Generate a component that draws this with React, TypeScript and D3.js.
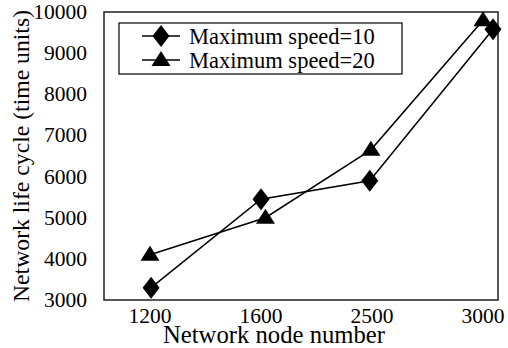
import React from "react";
import * as d3 from "d3";

const categories = ["1200", "1600", "2500", "3000"];
const yTicks = [3000, 4000, 5000, 6000, 7000, 8000, 9000, 10000];
const seriesNames = ["Maximum speed=10", "Maximum speed=20"];
// x position of each point, in category units
const speed10X = [0.01, 1.0, 1.98, 3.09];
const speed10Y = [3300, 5450, 5900, 9580];
const speed20X = [0, 1.04, 1.99, 3.0];
const speed20Y = [4100, 5000, 6650, 9800];

const W = 508;
const H = 348;
const FONT = "Liberation Serif";

function Diamond({ x, y }: { x: number; y: number }) {
  const w = 8.5, h = 11;
  return <path d={`M${x},${y - h}L${x + w},${y}L${x},${y + h}L${x - w},${y}Z`} fill="#000" />;
}
function Triangle({ x, y }: { x: number; y: number }) {
  const w = 9.5, h = 15;
  return <path d={`M${x},${y - h * 0.6}L${x + w},${y + h * 0.4}L${x - w},${y + h * 0.4}Z`} fill="#000" />;
}

export default function App() {
  const left = 104, right = 498, top = 12, bottom = 300;
  const x = d3.scaleLinear().domain([0, 3]).range([150, 483]);
  const y = d3.scaleLinear().domain([3000, 10000]).range([bottom, top]);
  const line = d3.line<[number, number]>().x((d) => x(d[0])).y((d) => y(d[1]));
  const s1 = speed10X.map((v, i) => [v, speed10Y[i]] as [number, number]);
  const s2 = speed20X.map((v, i) => [v, speed20Y[i]] as [number, number]);
  const txt = { fontFamily: FONT } as React.CSSProperties;

  return (
    <svg width={W} height={H} style={{ position: "absolute", left: 0, top: 0, background: "#fff" }}>
      <rect x={0} y={0} width={W} height={H} fill="#fff" />
      <rect x={left} y={top} width={right - left} height={bottom - top} fill="none" stroke="#222" strokeWidth={1.5} />
      {yTicks.map((t) => (
        <text key={t} x={87} y={y(t) + 7} textAnchor="end" style={txt} fontSize={21.5}>
          {t}
        </text>
      ))}
      {categories.map((c, i) => (
        <text key={c} x={x(i)} y={323} textAnchor="middle" style={txt} fontSize={21.5}>
          {c}
        </text>
      ))}
      <text x={274} y={343} textAnchor="middle" style={txt} fontSize={24.7}>
        Network node number
      </text>
      <text transform={`translate(29,156) rotate(-90)`} textAnchor="middle" style={txt} fontSize={23.7}>
        Network life cycle (time units)
      </text>
      <path d={line(s1) || ""} fill="none" stroke="#000" strokeWidth={1.5} />
      <path d={line(s2) || ""} fill="none" stroke="#000" strokeWidth={1.5} />
      {s1.map((d, i) => (
        <Diamond key={"d" + i} x={x(d[0])} y={y(d[1])} />
      ))}
      {s2.map((d, i) => (
        <Triangle key={"t" + i} x={x(d[0])} y={y(d[1])} />
      ))}
      <rect x={119} y={23} width={283} height={51} fill="#fff" stroke="#000" strokeWidth={1.2} />
      {seriesNames.map((n, i) => {
        const cy = 36 + i * 24;
        return (
          <g key={n}>
            <line x1={142} x2={180} y1={cy} y2={cy} stroke="#000" strokeWidth={1.5} />
            {i === 0 ? <Diamond x={161} y={cy} /> : <Triangle x={161} y={cy} />}
            <text x={189} y={cy + 7.5} style={txt} fontSize={22.5}>
              {n}
            </text>
          </g>
        );
      })}
    </svg>
  );
}
